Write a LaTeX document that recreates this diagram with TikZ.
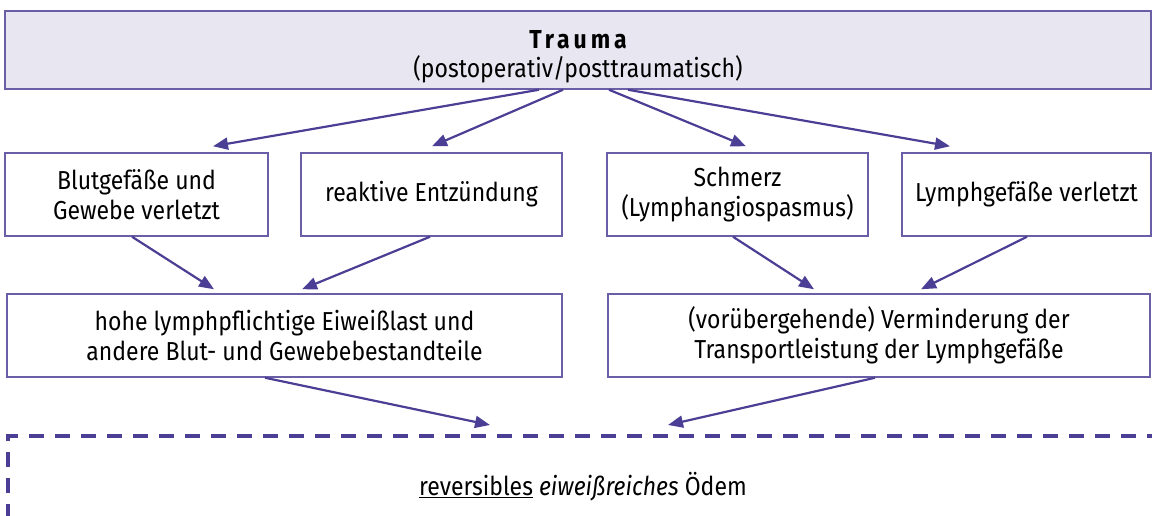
\documentclass[tikz,border=0pt]{standalone}
\usepackage{fontspec}
\setmainfont{Fira Sans}[FakeStretch=0.885]
\newfontfamily\spaced{Fira Sans}[FakeStretch=0.885, LetterSpace=15]
\usetikzlibrary{arrows.meta}
\definecolor{lila}{HTML}{4B3F95}
\definecolor{lilabox}{HTML}{6A5FA6}
\definecolor{lilafill}{HTML}{E8E6F1}
\tikzstyle{bx}=[draw=lilabox, line width=1.5pt, align=center, inner sep=0pt, minimum height=83pt, font=\fontsize{26}{30}\selectfont]
\tikzstyle{ar}=[draw=lila, line width=2.2pt, -{Triangle[length=15pt,width=12pt]}]

\begin{document}
\begin{tikzpicture}[x=1pt, y=-1pt]
%%frame
\useasboundingbox (0,0) rectangle (1152,516);
%%top
\node[bx, fill=lilafill, minimum width=1146pt, minimum height=78pt, font=\fontsize{26}{29}\selectfont] (trauma) at (578,50)
  {\rule{0pt}{31pt}{\spaced\bfseries Trauma}\\(postoperativ/posttraumatisch)};
%%causes
\node[bx, minimum width=263pt] (blut) at (136.5,194.5) {Blutgefäße und\\Gewebe verletzt};
\node[bx, minimum width=261pt] (entz) at (431.5,194.5) {reaktive Entzündung};
\node[bx, minimum width=261pt] (schmerz) at (737.5,194.5) {Schmerz\\(Lymphangiospasmus)};
\node[bx, minimum width=249pt] (lymph) at (1026.5,194.5) {Lymphgefäße verletzt};
%%effects
\node[bx, minimum width=555pt] (eiweiss) at (284.5,335.5) {hohe lymphpflichtige Eiweißlast und\\andere Blut- und Gewebebestandteile};
\node[bx, minimum width=542pt] (transport) at (879,335.5) {(vorübergehende) Verminderung der\\Transportleistung der Lymphgefäße};
%%result
\node[bx, draw=lila, line width=4pt, dash pattern=on 15pt off 11pt, minimum width=1150pt, minimum height=102pt] (odem) at (583,487)
  {\underline{reversibles} \textit{eiweißreiches} Ödem};
%%arrows
\draw[ar] ([xshift=-39pt]trauma.south) -- ([xshift=76.5pt,yshift=6pt]blut.north);
\draw[ar] ([xshift=-15pt]trauma.south) -- ([xshift=0.5pt,yshift=6pt]entz.north);
\draw[ar] ([xshift=31pt]trauma.south) -- ([xshift=8.5pt,yshift=6pt]schmerz.north);
\draw[ar] ([xshift=50pt]trauma.south) -- ([xshift=-76.5pt,yshift=6pt]lymph.north);
%
\draw[ar] ([xshift=-4.5pt]blut.south) -- ([xshift=-70.5pt,yshift=4pt]eiweiss.north);
\draw[ar] ([xshift=-1.5pt]entz.south) -- ([xshift=17.5pt,yshift=4pt]eiweiss.north);
\draw[ar] ([xshift=-4.5pt]schmerz.south) -- ([xshift=-65pt,yshift=4pt]transport.north);
\draw[ar] ([xshift=0.5pt]lymph.south) -- ([xshift=42pt,yshift=4pt]transport.north);
%
\draw[ar] ([xshift=-19.5pt]eiweiss.south) -- ([xshift=-93pt,yshift=9pt]odem.north);
\draw[ar] ([xshift=-4pt]transport.south) -- ([xshift=85pt,yshift=9pt]odem.north);
\end{tikzpicture}
\end{document}
